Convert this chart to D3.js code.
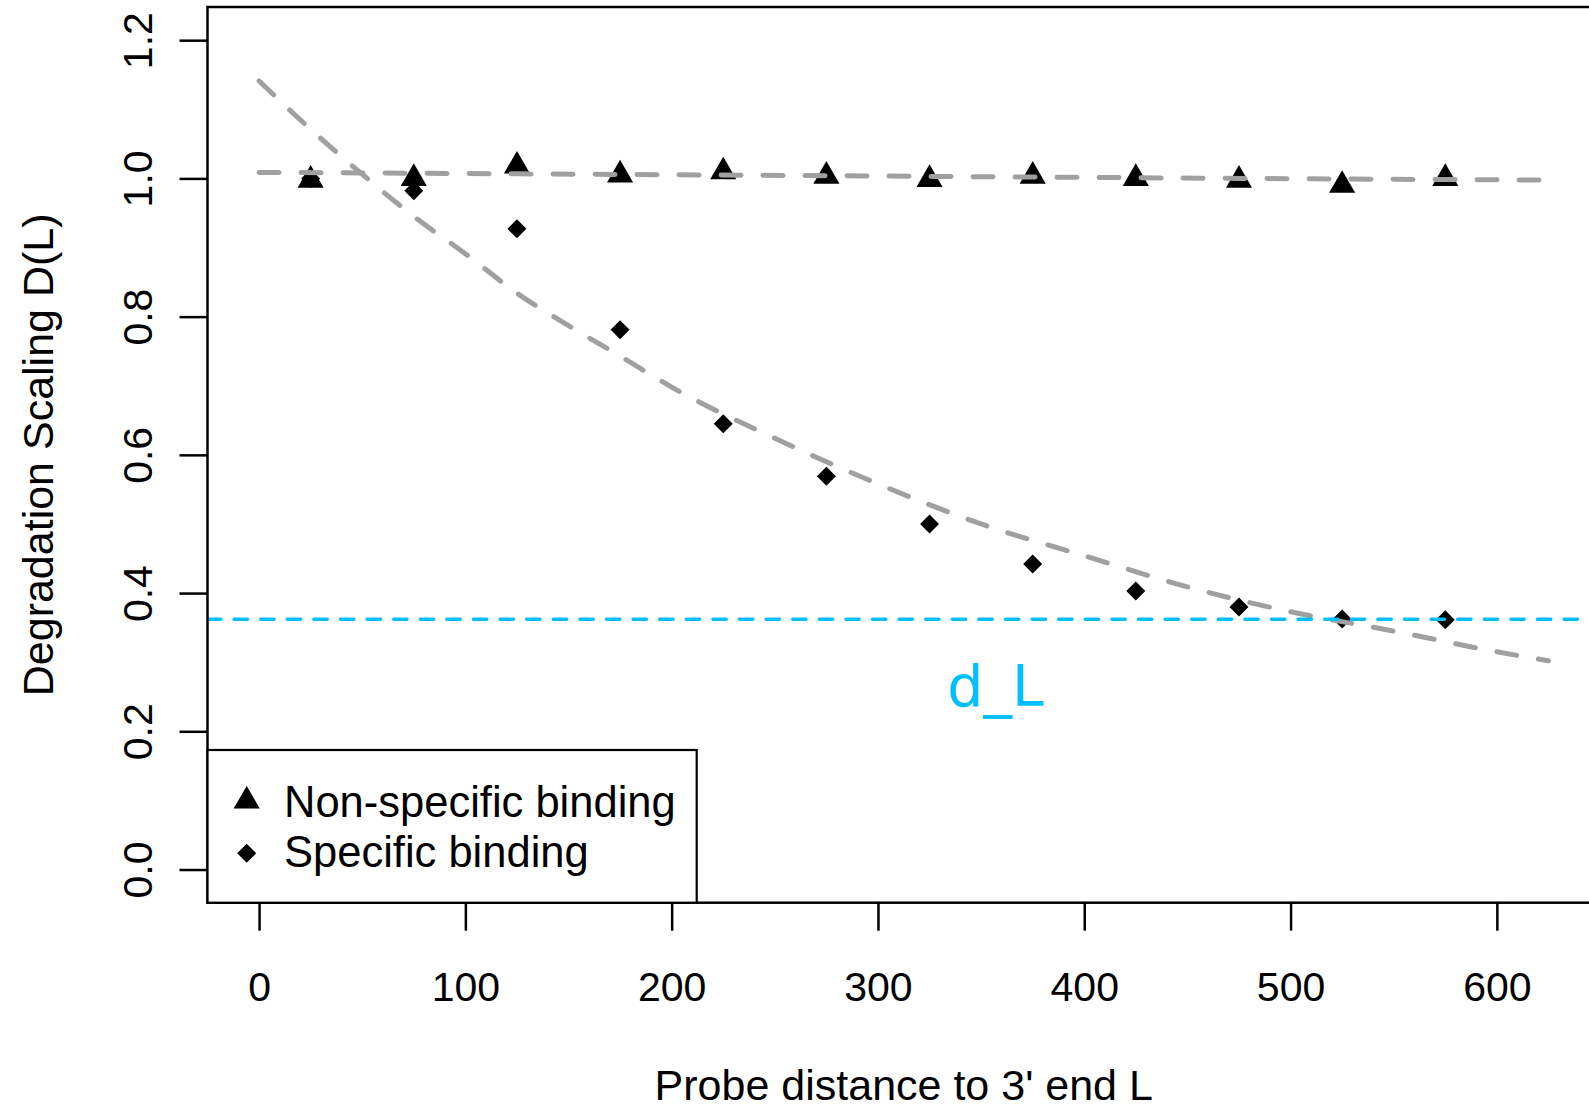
<!DOCTYPE html>
<html lang="en">
<head>
  <meta charset="UTF-8">
  <title>Degradation Scaling D(L)</title>
  <script src="https://d3js.org/d3.v7.min.js"></script>
  <style>
    body {
      margin: 0;
      padding: 0;
      background: white;
      font-family: "Liberation Sans", Arial, sans-serif;
    }
    svg {
      display: block;
    }
  </style>
</head>
<body>
  <svg width="1589" height="1109"></svg>

  <script>
    const width = 1589, height = 1109;
    const svg = d3.select("svg");

    // probe positions and measured scaling factors
    const distance = [25, 75, 125, 175, 225, 275, 325, 375, 425, 475, 525, 575];
    const nonSpecific = [0.9975, 1.000, 1.018, 1.005, 1.0096, 1.0033, 0.9985, 1.0033, 1.000, 0.9975, 0.990, 1.000];
    const specific = [1.000, 0.982, 0.927, 0.781, 0.645, 0.569, 0.500, 0.442, 0.403, 0.380, 0.3625, 0.3615];

    // fitted curves
    const nonSpecificFitL = [0, 100, 200, 300, 400, 500, 625];
    const nonSpecificFit = [1.0087, 1.007, 1.0052, 1.0034, 1.0015, 0.9995, 0.9976];
    const specificFitL = [0, 25, 50, 75, 100, 125, 150, 175, 200, 250, 300, 350, 400, 450, 500, 550, 600, 625];
    const specificFit = [1.141, 1.071, 1.006, 0.945, 0.891, 0.834, 0.787, 0.743, 0.698, 0.624, 0.558, 0.500, 0.454, 0.409, 0.373, 0.345, 0.315, 0.302];

    const dL = 0.362;
    const xTicks = [0, 100, 200, 300, 400, 500, 600];
    const yTicks = [0, 0.2, 0.4, 0.6, 0.8, 1.0, 1.2];
    const legendLabels = ["Non-specific binding", "Specific binding"];

    const pLeft = 207.5, pRight = 1600, pTop = 7, pBottom = 902.7;

    const x = d3.scaleLinear().domain([-25, 650]).range([pLeft, pRight]);
    const y = d3.scaleLinear().domain([-0.048, 1.248]).range([pBottom, pTop]);

    svg.append("defs").append("clipPath").attr("id", "plot-clip")
      .append("rect")
      .attr("x", pLeft).attr("y", pTop)
      .attr("width", pRight - pLeft).attr("height", pBottom - pTop);

    // R-style filled diamond (pch 18)
    const diamond = {
      draw(ctx, size) {
        const r = Math.sqrt(size / 2);
        ctx.moveTo(0, -r);
        ctx.lineTo(r, 0);
        ctx.lineTo(0, r);
        ctx.lineTo(-r, 0);
        ctx.closePath();
      }
    };
    const triPath = d3.symbol().type(d3.symbolTriangle).size(295)();
    const diaPath = d3.symbol().type(diamond).size(180)();

    const plot = svg.append("g").attr("clip-path", "url(#plot-clip)");

    plot.selectAll(".tri")
      .data(distance.map((d, i) => [d, nonSpecific[i]]))
      .join("path")
      .attr("class", "tri")
      .attr("d", triPath)
      .attr("transform", d => `translate(${x(d[0])},${y(d[1])})`)
      .attr("fill", "#000");

    plot.selectAll(".dia")
      .data(distance.map((d, i) => [d, specific[i]]))
      .join("path")
      .attr("class", "dia")
      .attr("d", diaPath)
      .attr("transform", d => `translate(${x(d[0])},${y(d[1])})`)
      .attr("fill", "#000");

    const line = d3.line()
      .x(d => x(d[0]))
      .y(d => y(d[1]))
      .curve(d3.curveMonotoneX);

    plot.append("path")
      .datum(nonSpecificFitL.map((d, i) => [d, nonSpecificFit[i]]))
      .attr("d", line)
      .attr("fill", "none")
      .attr("stroke", "#a0a0a0")
      .attr("stroke-width", 5)
      .attr("stroke-linecap", "round")
      .attr("stroke-dasharray", "20 22");

    plot.append("path")
      .datum(specificFitL.map((d, i) => [d, specificFit[i]]))
      .attr("d", line)
      .attr("fill", "none")
      .attr("stroke", "#a0a0a0")
      .attr("stroke-width", 5)
      .attr("stroke-linecap", "round")
      .attr("stroke-dasharray", "20 22");

    plot.append("line")
      .attr("x1", x(-25)).attr("x2", x(650))
      .attr("y1", y(dL)).attr("y2", y(dL))
      .attr("stroke", "#00bfff")
      .attr("stroke-width", 3.5)
      .attr("stroke-linecap", "round")
      .attr("stroke-dasharray", "13.3 13.3");

    svg.append("text")
      .attr("x", x(357))
      .attr("y", y(0.236))
      .attr("text-anchor", "middle")
      .attr("font-family", "DejaVu Sans, sans-serif")
      .attr("font-size", 57)
      .attr("fill", "#00bfff")
      .text("d_L");

    // frame
    svg.append("rect")
      .attr("x", pLeft).attr("y", pTop)
      .attr("width", pRight - pLeft).attr("height", pBottom - pTop)
      .attr("fill", "none")
      .attr("stroke", "#000")
      .attr("stroke-width", 2.5);

    // axes
    const xAxis = svg.append("g")
      .attr("transform", `translate(0,${pBottom})`)
      .call(d3.axisBottom(x).tickValues(xTicks).tickSize(28).tickFormat(d3.format("d")));
    xAxis.select(".domain").remove();
    xAxis.selectAll("line").attr("stroke", "#000").attr("stroke-width", 2.5);
    xAxis.selectAll("text")
      .attr("y", 98.5)
      .attr("dy", 0)
      .attr("fill", "#000")
      .attr("font-family", "Liberation Sans, Arial, sans-serif")
      .attr("font-size", 41);

    const yAxis = svg.append("g")
      .attr("transform", `translate(${pLeft},0)`)
      .call(d3.axisLeft(y).tickValues(yTicks).tickSize(28).tickFormat(d3.format(".1f")));
    yAxis.select(".domain").remove();
    yAxis.selectAll("line").attr("stroke", "#000").attr("stroke-width", 2.5);
    yAxis.selectAll("text")
      .attr("x", 0)
      .attr("dy", 0)
      .attr("transform", `translate(${152 - pLeft},0) rotate(-90)`)
      .attr("text-anchor", "middle")
      .attr("fill", "#000")
      .attr("font-family", "Liberation Sans, Arial, sans-serif")
      .attr("font-size", 41);

    svg.append("text")
      .attr("x", (pLeft + pRight) / 2)
      .attr("y", 1100)
      .attr("text-anchor", "middle")
      .attr("font-size", 43)
      .attr("fill", "#000")
      .text("Probe distance to 3' end L");

    svg.append("text")
      .attr("transform", `translate(53,${(pTop + pBottom) / 2}) rotate(-90)`)
      .attr("text-anchor", "middle")
      .attr("font-size", 43)
      .attr("fill", "#000")
      .text("Degradation Scaling D(L)");

    // legend
    const legend = svg.append("g");
    legend.append("rect")
      .attr("x", pLeft).attr("y", 750)
      .attr("width", 696.7 - pLeft).attr("height", pBottom - 750)
      .attr("fill", "#fff")
      .attr("stroke", "#000")
      .attr("stroke-width", 2.2);

    const rows = legend.selectAll(".row")
      .data(legendLabels)
      .join("g")
      .attr("class", "row")
      .attr("transform", (d, i) => `translate(0,${i * 50})`);

    rows.append("path")
      .attr("d", (d, i) => i === 0 ? triPath : diaPath)
      .attr("transform", (d, i) => `translate(246.7,${i === 0 ? 801 : 803.3})`)
      .attr("fill", "#000");

    rows.append("text")
      .attr("x", 284)
      .attr("y", 816.7)
      .attr("font-size", 43.5)
      .attr("fill", "#000")
      .text(d => d);
  </script>
</body>
</html>
